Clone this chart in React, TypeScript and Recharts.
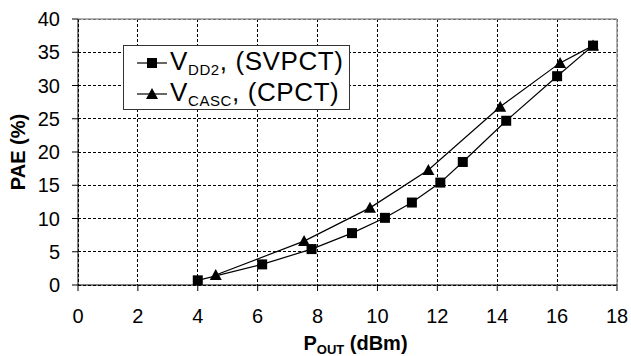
import { LineChart, Line, XAxis, YAxis, CartesianGrid, Legend, ReferenceLine, Label } from 'recharts';

// P_OUT (dBm) / PAE (%)
const vddPout = [4.0, 6.15, 7.8, 9.15, 10.25, 11.15, 12.1, 12.85, 14.3, 16.0, 17.2];
const vddPae = [0.7, 3.1, 5.4, 7.8, 10.1, 12.4, 15.4, 18.5, 24.7, 31.4, 36.0];
const cascPout = [4.6, 7.55, 9.75, 11.7, 14.1, 16.1, 17.2];
const cascPae = [1.5, 6.6, 11.6, 17.3, 26.8, 33.4, 36.0];

const xTicks = [0, 2, 4, 6, 8, 10, 12, 14, 16, 18];
const yTicks = [0, 5, 10, 15, 20, 25, 30, 35, 40];

const vddData = vddPout.map((x, i) => ({ x, y: vddPae[i] }));
const cascData = cascPout.map((x, i) => ({ x, y: cascPae[i] }));

const FONT = '"Liberation Sans", Arial, sans-serif';

const SquareDot = (p: any) => (
  <rect key={`sq-${p.index}`} x={p.cx - 5} y={p.cy - 5} width={10} height={10} fill="#000" />
);

const TriangleDot = (p: any) => (
  <polygon
    key={`tr-${p.index}`}
    points={`${p.cx},${p.cy - 6} ${p.cx - 6},${p.cy + 5} ${p.cx + 6},${p.cy + 5}`}
    fill="#000"
  />
);

const LegendBox = () => {
  const row = (sub: string, rest: string, square: boolean) => (
    <div style={{ display: 'flex', alignItems: 'center', height: 31 }}>
      <svg width={32} height={20} style={{ marginRight: 2 }}>
        <line x1={1} y1={10} x2={31} y2={10} stroke="#000" strokeWidth={1.2} />
        {square ? (
          <rect x={11} y={5} width={10} height={10} fill="#000" />
        ) : (
          <polygon points="16,4 10,15 22,15" fill="#000" />
        )}
      </svg>
      <span style={{ fontSize: 26, lineHeight: '26px', whiteSpace: 'nowrap', letterSpacing: 0.6 }}>
        V<span style={{ fontSize: 15, position: 'relative', top: 5 }}>{sub}</span>
        {rest}
      </span>
    </div>
  );
  return (
    <div
      style={{
        background: '#fff',
        border: '1px solid #333',
        width: 227,
        height: 65,
        boxSizing: 'border-box',
        paddingLeft: 12,
        paddingTop: 1,
        fontFamily: FONT,
        color: '#000',
      }}
    >
      {row('DD2', ', (SVPCT)', true)}
      {row('CASC', ', (CPCT)', false)}
    </div>
  );
};

export default function App() {
  return (
    <div style={{ position: 'absolute', left: 0, top: 0, background: '#fff' }}>
      <LineChart
        width={631}
        height={356}
        margin={{ top: 19, right: 14, left: 0, bottom: 0 }}
        style={{ fontFamily: FONT }}
      >
        <CartesianGrid stroke="#000" strokeDasharray="3 2" strokeWidth={1} shapeRendering="crispEdges" />
        <XAxis
          type="number"
          dataKey="x"
          domain={[0, 18]}
          ticks={xTicks}
          interval={0}
          allowDataOverflow
          height={71}
          stroke="#000"
          tickSize={6}
          tickMargin={18}
          tick={{ fill: '#000', fontSize: 20 }}
        >
          <Label
            content={(props: any) => {
              const vb = props.viewBox;
              const cx = vb.x + vb.width / 2 + 8;
              return (
                <text x={cx} y={350} textAnchor="middle" fontSize={20} fontWeight="bold" fill="#000">
                  <tspan>P</tspan>
                  <tspan fontSize={13} dy={4}>OUT</tspan>
                  <tspan dy={-4}> (dBm)</tspan>
                </text>
              );
            }}
          />
        </XAxis>
        <YAxis
          type="number"
          domain={[0, 40]}
          ticks={yTicks}
          interval={0}
          width={78}
          stroke="#000"
          tickSize={6}
          tickMargin={12}
          tick={{ fill: '#000', fontSize: 20 }}
        >
          <Label
            content={(props: any) => {
              const vb = props.viewBox;
              const cy = vb.y + vb.height / 2;
              return (
                <text
                  x={25}
                  y={cy}
                  transform={`rotate(-90 25 ${cy})`}
                  textAnchor="middle"
                  fontSize={20}
                  fontWeight="bold"
                  fill="#000"
                >
                  PAE (%)
                </text>
              );
            }}
          />
        </YAxis>
        <ReferenceLine y={40} stroke="#999" strokeWidth={1.5} />
        <ReferenceLine x={18} stroke="#999" strokeWidth={1.5} />
        <Line
          data={cascData}
          dataKey="y"
          stroke="#000"
          strokeWidth={1.2}
          dot={TriangleDot}
          isAnimationActive={false}
        />
        <Line
          data={vddData}
          dataKey="y"
          stroke="#000"
          strokeWidth={1.2}
          dot={SquareDot}
          isAnimationActive={false}
        />
        <Legend
          layout="horizontal"
          verticalAlign="middle"
          content={<LegendBox />}
          wrapperStyle={{ position: 'absolute', left: 123, top: 45, width: 227, height: 65 }}
        />
      </LineChart>
    </div>
  );
}
